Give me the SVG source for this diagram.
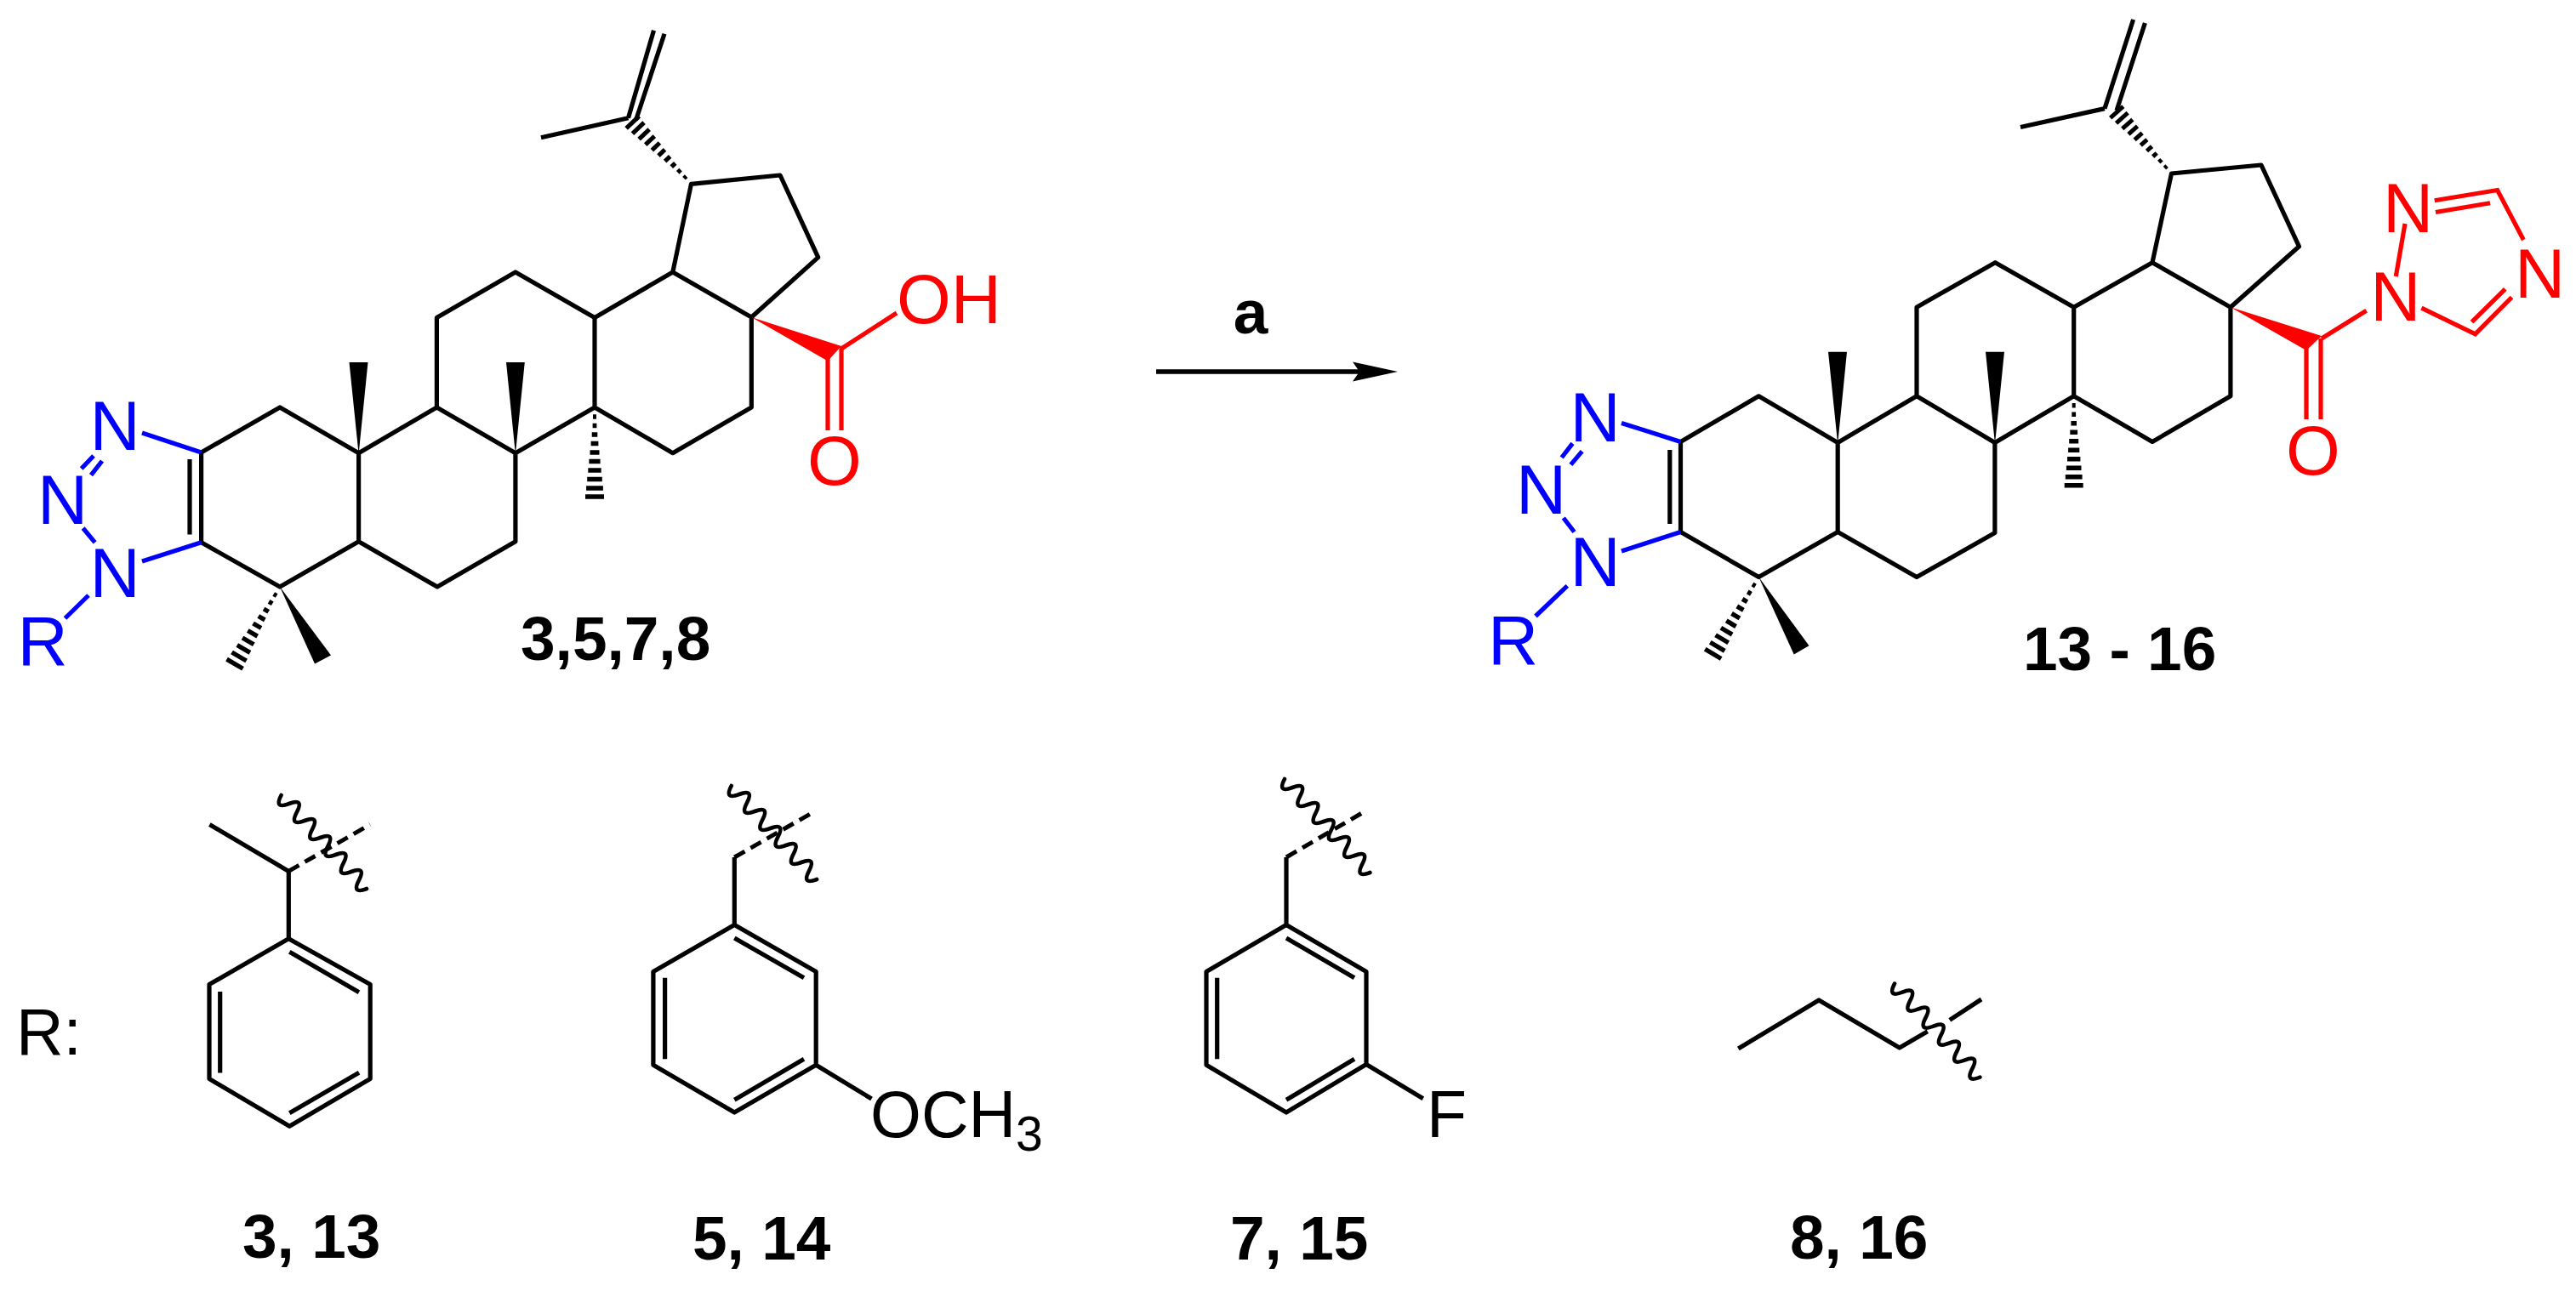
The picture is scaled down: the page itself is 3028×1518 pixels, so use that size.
<svg xmlns="http://www.w3.org/2000/svg" xmlns:xlink="http://www.w3.org/1999/xlink" width="3028" height="1518" viewBox="0 0 3028 1518">
<style>
text{font-family:"Liberation Sans",Arial,sans-serif}
.k{fill:none;stroke:#000;stroke-width:5.2;stroke-linejoin:round}
.b{fill:none;stroke:#0000ff;stroke-width:5.2}
.r{fill:none;stroke:#ff0000;stroke-width:5.2}
.wv{fill:none;stroke:#000;stroke-width:4.6;stroke-linecap:round}
.ds{fill:none;stroke:#000;stroke-width:5;stroke-dasharray:14 8}
.tb{fill:#0000ff;font-size:82px}
.tr{fill:#ff0000;font-size:82px}
.tk{fill:#000;font-size:77px}
.lb{fill:#000;font-size:73px;font-weight:bold}
</style>
<defs>
<path id="hash" fill="none" stroke="#000" stroke-width="5.4" d="M-2 11H2M-2.4 21.5H2.4M-3.3 32H3.3M-4.4 42.5H4.4M-5.5 53H5.5M-6.6 63.5H6.6M-7.7 74H7.7M-8.8 84.5H8.8M-9.9 95H9.9M-11 105H11"/>
<path id="wave" class="wv" d="M0 0q-8.8 17 9.13 10t9.13 10t9.13 10t9.13 10t9.13 10t9.13 10t9.13 10t9.13 10t9.13 10t9.13 10t9.13 10"/>
</defs>
<g id="connectors">
<path id="reaction-arrow" d="M1359 437H1600" fill="none" stroke="#000" stroke-width="5.4"/>
<path d="M1643 437L1590 425.5L1598 437L1590 448.5Z" fill="#000"/>
</g>
<g id="compound-left">
<path class="k" d="M236.6 532L329 479L421.6 532.7L513.4 479L605.9 532.7L699 479L790.8 532.7L883.3 479V373L790.8 320L699 373.5L605.9 320L513.4 373.5V479M699 373.5V479M790.8 320L812.5 216.3L917 206L961.7 302.6L883.3 373M421.6 532.7V636.7L329 690L236.6 637.8V532M421.6 636.7L514 690L605.9 636.7V532.7M738.5 138.8L636 161.7M738.5 138.8L768.5 35.7M747.5 141.3L781 39.8M223 540V628.6"/>
<polygon points="421.6,534 410.5,426 432.5,426" fill="#000"/>
<polygon points="605.9,534 595,426 616.8,426" fill="#000"/>
<polygon points="329,690 370,780.6 389,770.4" fill="#000"/>
<use href="#hash" transform="translate(699 479)"/>
<use href="#hash" transform="translate(329 690) rotate(30.3)"/>
<use href="#hash" transform="translate(812.5 216) rotate(136.4) scale(.95)"/>
<path class="b" d="M167 509L236.6 532M167 660L236.6 637.8M95.7 551L110 536M107 558.7L120 542M97.6 621L111.6 637.8M104 700L76.5 727"/>
<text class="tb" x="135" y="529" text-anchor="middle">N</text>
<text class="tb" x="73.5" y="616" text-anchor="middle">N</text>
<text class="tb" x="135" y="701.5" text-anchor="middle">N</text>
<text class="tb" x="20.5" y="782">R</text>
<polygon points="883.3,373 989,407 973,424.5" fill="#ff0000"/>
<path class="r" d="M987.8 410.7L1054 368M973 418V506M989 410V506"/>
<text class="tr" x="981" y="570" text-anchor="middle">O</text>
<text class="tr" x="1054" y="380">OH</text>
<text class="lb" x="612" y="776">3,5,7,8</text>
</g>
<g id="reagent"><text class="lb" x="1470" y="392" text-anchor="middle">a</text></g>
<g id="compound-right">
<path class="k" d="M1975.5 519.4L2067.3 465.8L2160.2 520.4L2253 465.8L2344.9 520.4L2437.7 465.8L2530 519.4L2621.9 465.8V361.2L2530 308.7L2437.7 361.2L2345.3 308.7L2253 361.2V465.8M2437.7 361.2V465.8M2530 308.7L2552.5 204L2658 194L2702.5 289.8L2621.9 361.2M2160.2 520.4V625.5L2067.3 678.6L1975.5 625.5V519.4M2160.2 625.5L2253 678.6L2344.9 626.5V520.4M2474 127.6L2375 149.5M2474 127.6L2507.6 23M2488 130L2521.4 27M1962.8 529V616"/>
<polygon points="2160.2,522 2149,413.8 2171,413.8" fill="#000"/>
<polygon points="2345,522 2334,413.8 2356,413.8" fill="#000"/>
<polygon points="2067.3,678.6 2108.7,769.4 2126.5,759.2" fill="#000"/>
<use href="#hash" transform="translate(2437.7 465.8)"/>
<use href="#hash" transform="translate(2067.3 678.6) rotate(30.7)"/>
<use href="#hash" transform="translate(2552.5 204) rotate(138.3) scale(.92)"/>
<path class="b" d="M1906 497.4L1975.5 519.4M1906 648L1975.5 625.5M1835.7 538L1848.5 521.4M1846.4 546.4L1859.7 530.6M1837.8 609L1850.5 625.5M1842.3 688.8L1805 724.5"/>
<text class="tb" x="1875" y="519" text-anchor="middle">N</text>
<text class="tb" x="1811.7" y="603.6" text-anchor="middle">N</text>
<text class="tb" x="1875" y="688.8" text-anchor="middle">N</text>
<text class="tb" x="1749" y="780.6">R</text>
<polygon points="2621.9,361.2 2729,395 2711,412" fill="#ff0000"/>
<path class="r" d="M2729 398L2781.6 365.3M2711 408V493M2728 398V493M2816.3 325L2827 263M2861.7 235.7L2935.6 223.5L2966.3 282M2863 249.5L2927 238.8M2952.5 349.5L2909.6 392.9L2846.4 362.2M2944.8 339.8L2905.5 378.6"/>
<text class="tr" x="2719" y="558" text-anchor="middle">O</text>
<text class="tr" x="2815.8" y="376.5" text-anchor="middle">N</text>
<text class="tr" x="2830.5" y="273" text-anchor="middle">N</text>
<text class="tr" x="2985.6" y="350" text-anchor="middle">N</text>
<text class="lb" x="2378" y="788">13 - 16</text>
</g>
<g id="r-label"><text class="tk" x="19" y="1240">R:</text></g>
<g id="substituent-3-13">
<path class="k" d="M246.4 969.5L339.3 1024.4V1103.8L435.2 1157.5V1268.5L340.3 1324.3L246 1268.5V1157.5L339.3 1103.8M340.3 1119.2L422 1166.8M258.7 1166V1261.6M340.3 1308.8L422 1261.2"/>
<path class="ds" d="M339.3 1024.4L435 969.5"/>
<use href="#wave" transform="translate(330.6 935)"/>
<text class="lb" x="285" y="1479">3, 13</text>
</g>
<g id="substituent-5-14">
<path class="k" d="M863.3 1008V1087.5L959.2 1142.4V1252.3L863.3 1308L767.9 1252.3V1142.4L863.3 1087.5M863.3 1103L945 1149.7M781.6 1149.7V1245.3M863.3 1293.3L945 1245.3M959.2 1252.3L1024.5 1292"/>
<path class="ds" d="M863.3 1008L957.7 954"/>
<use href="#wave" transform="translate(859.7 924)"/>
<text class="tk" x="1023" y="1337">OCH<tspan font-size="57" dy="16">3</tspan></text>
<text class="lb" x="814" y="1481">5, 14</text>
</g>
<g id="substituent-7-15">
<path class="k" d="M1512 1008V1087.5L1606 1142.4V1251.5L1512 1308L1418 1252.3V1142.4L1512 1087.5M1512 1103L1592 1149.7M1430.7 1149.7V1245.3M1512 1293.3L1592 1245.3M1606 1251.5L1672.8 1291.7"/>
<path class="ds" d="M1512 1008L1606 953"/>
<use href="#wave" transform="translate(1510 916)"/>
<text class="tk" x="1677" y="1336.5">F</text>
<text class="lb" x="1446" y="1481">7, 15</text>
</g>
<g id="substituent-8-16">
<path class="k" d="M2043.3 1233L2138 1176L2232.8 1232L2265.8 1212.8M2291.8 1199.4L2329 1175"/>
<use href="#wave" transform="translate(2227 1156.6)"/>
<text class="lb" x="2104" y="1480">8, 16</text>
</g>
</svg>
